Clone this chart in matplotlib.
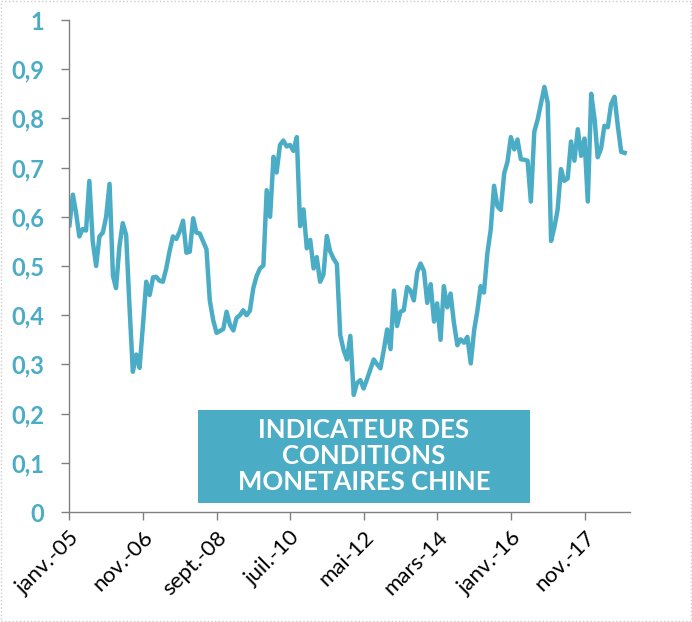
"""
indicateur des conditions monetaires chine, 2005-2018
"""

import numpy as np
import pandas as pd
import matplotlib
matplotlib.use("Agg")
import matplotlib.pyplot as plt
from matplotlib.patches import Rectangle

# monthly values, janv.-05 onwards
icm = [0.583, 0.645, 0.61, 0.56, 0.575, 0.572, 0.673, 0.55, 0.50, 0.56,
       0.568, 0.60, 0.667, 0.48, 0.455, 0.54, 0.587, 0.563, 0.42, 0.285,
       0.32, 0.293, 0.38, 0.468, 0.441, 0.477, 0.478, 0.47, 0.468, 0.495,
       0.53, 0.56, 0.555, 0.57, 0.592, 0.527, 0.529, 0.597, 0.568, 0.566,
       0.55, 0.534, 0.43, 0.39, 0.364, 0.368, 0.372, 0.407, 0.38, 0.369,
       0.394, 0.40, 0.41, 0.40, 0.409, 0.455, 0.48, 0.495, 0.501, 0.654,
       0.60, 0.722, 0.69, 0.746, 0.755, 0.743, 0.746, 0.734, 0.762, 0.581,
       0.615, 0.536, 0.553, 0.495, 0.518, 0.468, 0.482, 0.561, 0.53, 0.515,
       0.504, 0.36, 0.329, 0.31, 0.358, 0.238, 0.262, 0.268, 0.251, 0.27,
       0.29, 0.31, 0.30, 0.292, 0.33, 0.371, 0.331, 0.45, 0.378, 0.407,
       0.41, 0.457, 0.45, 0.43, 0.488, 0.505, 0.49, 0.425, 0.463, 0.387,
       0.424, 0.35, 0.459, 0.416, 0.444, 0.384, 0.339, 0.351, 0.344, 0.356,
       0.302, 0.37, 0.407, 0.459, 0.446, 0.526, 0.573, 0.663, 0.621, 0.614,
       0.688, 0.712, 0.762, 0.737, 0.757, 0.717, 0.716, 0.714, 0.631, 0.773,
       0.798, 0.83, 0.864, 0.832, 0.551, 0.58, 0.614, 0.697, 0.673, 0.678,
       0.753, 0.714, 0.778, 0.724, 0.759, 0.631, 0.85, 0.798, 0.721, 0.739,
       0.785, 0.782, 0.829, 0.844, 0.783, 0.732, 0.73]
dates = pd.date_range("2005-01-01", periods=len(icm), freq="MS")

xtick_dates = ["2005-01-01", "2006-11-01", "2008-09-01", "2010-07-01",
               "2012-05-01", "2014-03-01", "2016-01-01", "2017-11-01"]
xtick_labels = ["janv.-05", "nov.-06", "sept.-08", "juil.-10",
                "mai-12", "mars-14", "janv.-16", "nov.-17"]
ytick_vals = [0, 0.1, 0.2, 0.3, 0.4, 0.5, 0.6, 0.7, 0.8, 0.9, 1]
ytick_labels = ["0", "0,1", "0,2", "0,3", "0,4", "0,5", "0,6", "0,7",
                "0,8", "0,9", "1"]

title = "INDICATEUR DES\nCONDITIONS\nMONETAIRES CHINE"

blue = "#4BACC6"
grey = "#808080"

fig = plt.figure(figsize=(6.92, 6.22), dpi=100)
ax = fig.add_axes([69 / 692, 1 - 512 / 622, 561 / 692, 492 / 622])

ax.plot(dates, icm, color=blue, lw=3.2, solid_joinstyle="round")

ax.set_ylim(0, 1)
ax.set_xlim(pd.Timestamp("2004-12-28"), pd.Timestamp("2018-12-20"))

ax.set_yticks(ytick_vals)
ax.set_yticklabels(ytick_labels, fontfamily="Lato", fontweight="bold",
                   fontsize=17, color=blue)
ax.set_xticks(pd.to_datetime(xtick_dates))
ax.set_xticklabels(xtick_labels, fontfamily="Lato", fontsize=16,
                   rotation=45, ha="right", rotation_mode="anchor")

ax.tick_params(axis="y", length=6, width=1, color=grey, pad=12)
ax.tick_params(axis="x", length=6, width=1, color=grey, pad=5)
for side in ["top", "right"]:
    ax.spines[side].set_visible(False)
for side in ["left", "bottom"]:
    ax.spines[side].set_color(grey)
    ax.spines[side].set_linewidth(1)

# title box
fig.patches.append(Rectangle((198 / 692, 1 - 503 / 622), 332 / 692, 93 / 622,
                             transform=fig.transFigure, facecolor=blue,
                             edgecolor="none", zorder=5))
fig.text(364 / 692, 1 - 456 / 622, title, ha="center", va="center",
         color="white", fontfamily="Lato", fontweight="bold", fontsize=18.5,
         linespacing=1.12, zorder=6)

# faint dotted frame
fig.patches.append(Rectangle((0.001, 0.001), 0.997, 0.997,
                             transform=fig.transFigure, fill=False,
                             edgecolor="#cccccc", linestyle=":", lw=1))

fig.savefig("out.png", dpi=100)
